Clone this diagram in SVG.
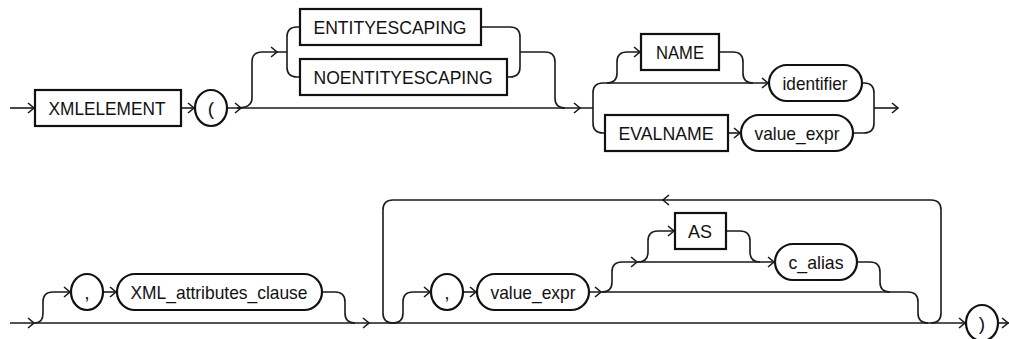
<svg xmlns="http://www.w3.org/2000/svg" width="1009" height="339" viewBox="0 0 1009 339">
<style>
.ln{fill:none;stroke:#1a1a1a;stroke-width:1.6}
.ar{fill:none;stroke:#1a1a1a;stroke-width:1.6;stroke-linejoin:miter}
.bx{fill:#fff;stroke:#111;stroke-width:2.2}
.t{font-family:"Liberation Sans",Arial,sans-serif;font-size:19px;fill:#111;text-anchor:middle}
</style>
<rect width="1009" height="339" fill="#fff"/>
<g id="connectors">
<!-- row 1 -->
<path class="ln" d="M10,108 H35"/>
<path class="ln" d="M181,108 H195"/>
<path class="ln" d="M227,108 H593"/>
<path class="ln" d="M237,108 Q252,108 252,98 V62 Q252,52 262,52 H287"/>
<path class="ln" d="M287,52 V37 Q287,27 297,27 H300 M287,52 V67 Q287,77 297,77 H300"/>
<path class="ln" d="M481,27 H510 Q520,27 520,37 V67 Q520,77 510,77 H507"/>
<path class="ln" d="M520,52 H545 Q555,52 555,62 V98 Q555,108 565,108"/>
<path class="ln" d="M593,108 V93 Q593,83 603,83 H769"/>
<path class="ln" d="M593,108 V123 Q593,133 603,133 H605"/>
<path class="ln" d="M607,83 Q617,83 617,73 V62 Q617,52 627,52 H641"/>
<path class="ln" d="M719,52 H733 Q743,52 743,62 V73 Q743,83 753,83"/>
<path class="ln" d="M728,133 H741"/>
<path class="ln" d="M862,83 H864 Q874,83 874,93 V123 Q874,133 864,133 H853"/>
<path class="ln" d="M874,108 H898"/>
<path class="ar" d="M28,103 L34,108 L28,113"/>
<path class="ar" d="M188,103 L194,108 L188,113"/>
<path class="ar" d="M235,103 L241,108 L235,113"/>
<path class="ar" d="M271,47 L277,52 L271,57"/>
<path class="ar" d="M574,103 L580,108 L574,113"/>
<path class="ar" d="M634,47 L640,52 L634,57"/>
<path class="ar" d="M762,78 L768,83 L762,88"/>
<path class="ar" d="M734,128 L740,133 L734,138"/>
<path class="ar" d="M892,103 L898,108 L892,113"/>
<!-- row 2 -->
<path class="ln" d="M10,323 H966"/>
<path class="ln" d="M35,323 Q43,323 43,313 V302 Q43,292 53,292 H71"/>
<path class="ln" d="M103,292 H117"/>
<path class="ln" d="M322,292 H335 Q345,292 345,302 V313 Q345,323 355,323"/>
<path class="ln" d="M393,323 Q383,323 383,313 V210 Q383,200 393,200 H931 Q941,200 941,210 V313 Q941,323 931,323"/>
<path class="ln" d="M393,323 Q403,323 403,313 V302 Q403,292 413,292 H431"/>
<path class="ln" d="M463,292 H477"/>
<path class="ln" d="M589,292 H908 Q918,292 918,302 V313 Q918,323 928,323"/>
<path class="ln" d="M602,292 Q612,292 612,282 V272 Q612,262 622,262 H775"/>
<path class="ln" d="M638,262 Q648,262 648,252 V241 Q648,231 658,231 H675"/>
<path class="ln" d="M726,231 H740 Q750,231 750,241 V252 Q750,262 760,262"/>
<path class="ln" d="M857,262 H870 Q880,262 880,272 V282 Q880,292 890,292"/>
<path class="ln" d="M998,323 H1009"/>
<path class="ar" d="M28,318 L34,323 L28,328"/>
<path class="ar" d="M64,287 L70,292 L64,297"/>
<path class="ar" d="M110,287 L116,292 L110,297"/>
<path class="ar" d="M363,318 L369,323 L363,328"/>
<path class="ar" d="M669,195 L663,200 L669,205"/>
<path class="ar" d="M424,287 L430,292 L424,297"/>
<path class="ar" d="M470,287 L476,292 L470,297"/>
<path class="ar" d="M595,287 L601,292 L595,297"/>
<path class="ar" d="M631,257 L637,262 L631,267"/>
<path class="ar" d="M668,226 L674,231 L668,236"/>
<path class="ar" d="M768,257 L774,262 L768,267"/>
<path class="ar" d="M959,318 L965,323 L959,328"/>
<path class="ar" d="M1002,318 L1008,323 L1002,328"/>
</g>
<g id="n-xmlelement"><rect class="bx" x="35" y="90" width="146" height="36"/><text class="t" x="107" y="115" textLength="117" lengthAdjust="spacingAndGlyphs">XMLELEMENT</text></g>
<g id="n-lparen"><ellipse class="bx" cx="211" cy="108" rx="16" ry="18"/><text class="t" x="211" y="115">(</text></g>
<g id="n-entityescaping"><rect class="bx" x="300" y="9" width="181" height="36"/><text class="t" x="390" y="34" textLength="153" lengthAdjust="spacingAndGlyphs">ENTITYESCAPING</text></g>
<g id="n-noentityescaping"><rect class="bx" x="300" y="59" width="207" height="36"/><text class="t" x="403" y="84" textLength="179" lengthAdjust="spacingAndGlyphs">NOENTITYESCAPING</text></g>
<g id="n-name"><rect class="bx" x="641" y="34" width="78" height="36"/><text class="t" x="680" y="59" textLength="48" lengthAdjust="spacingAndGlyphs">NAME</text></g>
<g id="n-identifier"><rect class="bx" x="769" y="65" width="93" height="36" rx="18"/><text class="t" x="815" y="90" textLength="65" lengthAdjust="spacingAndGlyphs">identifier</text></g>
<g id="n-evalname"><rect class="bx" x="605" y="115" width="123" height="36"/><text class="t" x="666" y="140" textLength="95" lengthAdjust="spacingAndGlyphs">EVALNAME</text></g>
<g id="n-value-expr1"><rect class="bx" x="741" y="115" width="112" height="36" rx="18"/><text class="t" x="797" y="140" textLength="85" lengthAdjust="spacingAndGlyphs">value_expr</text></g>
<g id="n-comma1"><ellipse class="bx" cx="87" cy="292" rx="16" ry="18"/><text class="t" x="87" y="299">,</text></g>
<g id="n-xml-attributes-clause"><rect class="bx" x="117" y="274" width="205" height="36" rx="18"/><text class="t" x="219" y="299" textLength="177" lengthAdjust="spacingAndGlyphs">XML_attributes_clause</text></g>
<g id="n-comma2"><ellipse class="bx" cx="447" cy="292" rx="16" ry="18"/><text class="t" x="447" y="299">,</text></g>
<g id="n-value-expr2"><rect class="bx" x="477" y="274" width="112" height="36" rx="18"/><text class="t" x="533" y="299" textLength="85" lengthAdjust="spacingAndGlyphs">value_expr</text></g>
<g id="n-as"><rect class="bx" x="675" y="213" width="51" height="36"/><text class="t" x="700" y="238" textLength="24" lengthAdjust="spacingAndGlyphs">AS</text></g>
<g id="n-c-alias"><rect class="bx" x="775" y="244" width="82" height="36" rx="18"/><text class="t" x="816" y="269" textLength="55" lengthAdjust="spacingAndGlyphs">c_alias</text></g>
<g id="n-rparen"><ellipse class="bx" cx="982" cy="323" rx="16" ry="18"/><text class="t" x="982" y="330">)</text></g>
</svg>
